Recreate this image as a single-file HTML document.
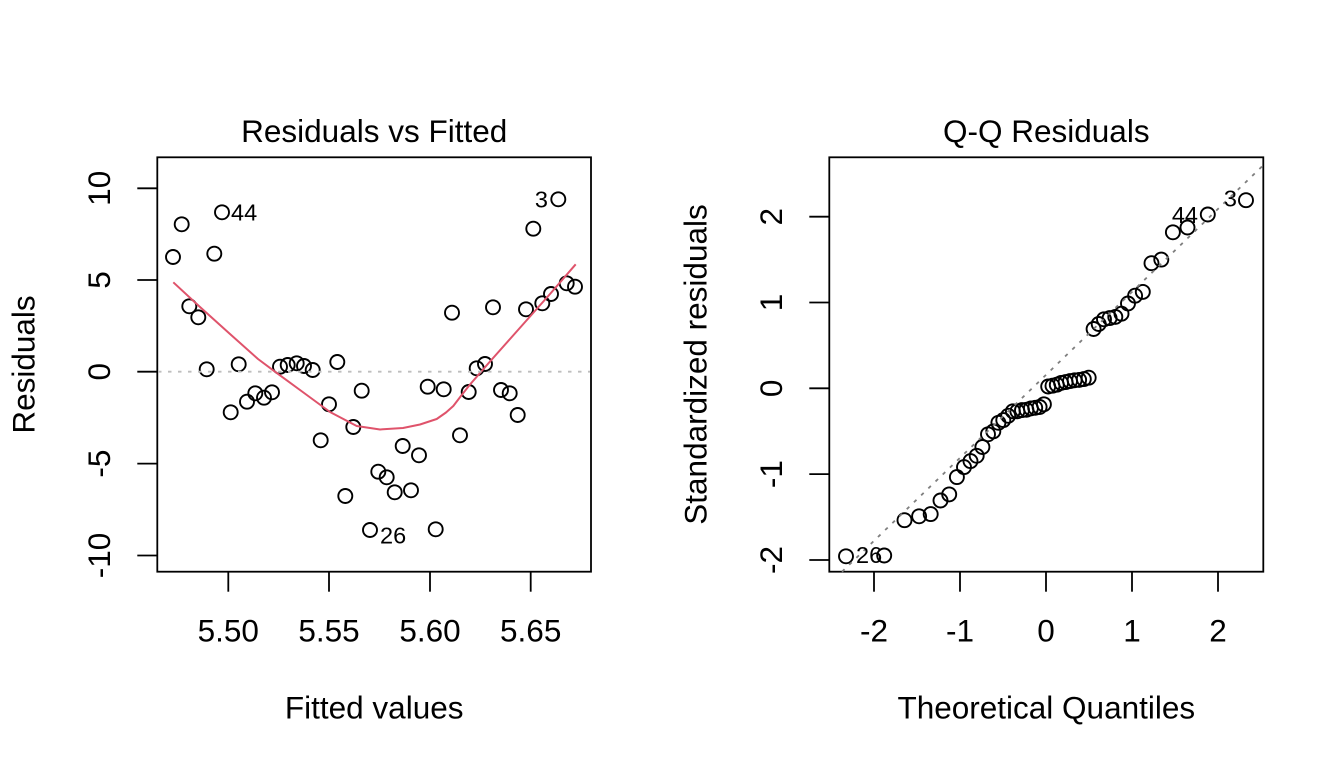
<!DOCTYPE html>
<html>
<head>
<meta charset="utf-8">
<style>
html,body{margin:0;padding:0;background:#fff;}
svg{display:block;}
text{font-family:"Liberation Sans",Arial,Helvetica,sans-serif;fill:#000;}
.lab{font-size:31.5px;}
.id{font-size:23.5px;}
</style>
</head>
<body>
<svg width="1344" height="768" viewBox="0 0 1344 768" xmlns="http://www.w3.org/2000/svg">
<rect x="0" y="0" width="1344" height="768" fill="#fff"/>

<g fill="none" stroke="#000" stroke-width="1.8">
  <rect x="157.3" y="157.3" width="433.7" height="414.4"/>
  <line x1="228.3" y1="571.7" x2="228.3" y2="591.7"/>
  <line x1="329" y1="571.7" x2="329" y2="591.7"/>
  <line x1="430" y1="571.7" x2="430" y2="591.7"/>
  <line x1="530.7" y1="571.7" x2="530.7" y2="591.7"/>
  <line x1="137.3" y1="188.3" x2="157.3" y2="188.3"/>
  <line x1="137.3" y1="280" x2="157.3" y2="280"/>
  <line x1="137.3" y1="371.7" x2="157.3" y2="371.7"/>
  <line x1="137.3" y1="463.6" x2="157.3" y2="463.6"/>
  <line x1="137.3" y1="555.5" x2="157.3" y2="555.5"/>
</g>
<g class="lab" text-anchor="middle">
  <text x="228.3" y="641.7">5.50</text>
  <text x="329" y="641.7">5.55</text>
  <text x="430" y="641.7">5.60</text>
  <text x="530.7" y="641.7">5.65</text>
  <text transform="translate(110,188.3) rotate(-90)">10</text>
  <text transform="translate(110,280) rotate(-90)">5</text>
  <text transform="translate(110,371.7) rotate(-90)">0</text>
  <text transform="translate(110,463.6) rotate(-90)">-5</text>
  <text transform="translate(110,555.5) rotate(-90)">-10</text>
  <text x="374.2" y="718.3">Fitted values</text>
  <text transform="translate(34.7,364.5) rotate(-90)">Residuals</text>
  <text x="374.2" y="142">Residuals vs Fitted</text>
</g>

<g fill="none" stroke="#000" stroke-width="1.9">
<circle cx="173" cy="257" r="7"/>
<circle cx="181.7" cy="224.3" r="7"/>
<circle cx="222" cy="212.3" r="7"/>
<circle cx="214.3" cy="253.7" r="7"/>
<circle cx="189.3" cy="306.3" r="7"/>
<circle cx="198.3" cy="317.3" r="7"/>
<circle cx="206.7" cy="369.3" r="7"/>
<circle cx="238.7" cy="364.3" r="7"/>
<circle cx="280" cy="366.7" r="7"/>
<circle cx="287.7" cy="365" r="7"/>
<circle cx="296.7" cy="363.3" r="7"/>
<circle cx="304" cy="366" r="7"/>
<circle cx="312.7" cy="370" r="7"/>
<circle cx="337.3" cy="362" r="7"/>
<circle cx="230.7" cy="412.3" r="7"/>
<circle cx="247" cy="401.7" r="7"/>
<circle cx="255.3" cy="393.3" r="7"/>
<circle cx="264" cy="397.7" r="7"/>
<circle cx="272" cy="392.3" r="7"/>
<circle cx="329" cy="404.3" r="7"/>
<circle cx="320.7" cy="440.3" r="7"/>
<circle cx="361.7" cy="390.7" r="7"/>
<circle cx="353.3" cy="427" r="7"/>
<circle cx="378.3" cy="471.7" r="7"/>
<circle cx="345.3" cy="496" r="7"/>
<circle cx="370" cy="530" r="7"/>
<circle cx="476.7" cy="368.3" r="7"/>
<circle cx="485" cy="364" r="7"/>
<circle cx="427.7" cy="386.7" r="7"/>
<circle cx="443.7" cy="389.3" r="7"/>
<circle cx="468.7" cy="392" r="7"/>
<circle cx="501" cy="390" r="7"/>
<circle cx="509.7" cy="393.3" r="7"/>
<circle cx="517.7" cy="415" r="7"/>
<circle cx="460" cy="435.3" r="7"/>
<circle cx="402.7" cy="446" r="7"/>
<circle cx="419" cy="455.3" r="7"/>
<circle cx="386.7" cy="477.3" r="7"/>
<circle cx="394.7" cy="492.3" r="7"/>
<circle cx="411" cy="490.3" r="7"/>
<circle cx="435.7" cy="529.3" r="7"/>
<circle cx="558.3" cy="199.3" r="7"/>
<circle cx="533.3" cy="228.7" r="7"/>
<circle cx="566.7" cy="283.3" r="7"/>
<circle cx="575" cy="286.7" r="7"/>
<circle cx="551" cy="294" r="7"/>
<circle cx="542.3" cy="303.3" r="7"/>
<circle cx="526" cy="309.3" r="7"/>
<circle cx="493" cy="307.3" r="7"/>
<circle cx="452" cy="312.7" r="7"/>
</g>

<polyline fill="none" stroke="#DF536B" stroke-width="2" stroke-linejoin="round"
 points="173.3,282.3 200,307 230,334 258,359 275,371.7 300,390 330,412 356.7,426 380,429.5 403,428 420,424.5 436.7,419 446,412.5 453.3,406 461.7,395 470,384.5 480,373 490,361.5 510,339 530,316.5 550,294 575.7,264.3"/>

<line x1="158" y1="371.7" x2="590" y2="371.7" stroke="#bebebe" stroke-width="1.8" stroke-dasharray="3.5 6.5"/>

<g class="id">
  <text x="231" y="220.5">44</text>
  <text x="548" y="207.5" text-anchor="end">3</text>
  <text x="380" y="543.5">26</text>
</g>

<g fill="none" stroke="#000" stroke-width="1.8">
  <rect x="829.3" y="157.3" width="434" height="414.4"/>
  <line x1="874" y1="571.7" x2="874" y2="591.7"/>
  <line x1="960" y1="571.7" x2="960" y2="591.7"/>
  <line x1="1046" y1="571.7" x2="1046" y2="591.7"/>
  <line x1="1132" y1="571.7" x2="1132" y2="591.7"/>
  <line x1="1218" y1="571.7" x2="1218" y2="591.7"/>
  <line x1="809.3" y1="216.7" x2="829.3" y2="216.7"/>
  <line x1="809.3" y1="302.5" x2="829.3" y2="302.5"/>
  <line x1="809.3" y1="388.3" x2="829.3" y2="388.3"/>
  <line x1="809.3" y1="474.1" x2="829.3" y2="474.1"/>
  <line x1="809.3" y1="560" x2="829.3" y2="560"/>
</g>
<g class="lab" text-anchor="middle">
  <text x="874" y="641.7">-2</text>
  <text x="960" y="641.7">-1</text>
  <text x="1046" y="641.7">0</text>
  <text x="1132" y="641.7">1</text>
  <text x="1218" y="641.7">2</text>
  <text transform="translate(782,216.7) rotate(-90)">2</text>
  <text transform="translate(782,302.5) rotate(-90)">1</text>
  <text transform="translate(782,388.3) rotate(-90)">0</text>
  <text transform="translate(782,474.1) rotate(-90)">-1</text>
  <text transform="translate(782,560) rotate(-90)">-2</text>
  <text x="1046.3" y="718.3">Theoretical Quantiles</text>
  <text transform="translate(706.7,364.5) rotate(-90)">Standardized residuals</text>
  <text x="1046.3" y="142">Q-Q Residuals</text>
</g>

<g fill="none" stroke="#000" stroke-width="1.9">
<circle cx="846" cy="556.3" r="7"/>
<circle cx="884.2" cy="555.5" r="7"/>
<circle cx="904.5" cy="520.2" r="7"/>
<circle cx="919.1" cy="516.3" r="7"/>
<circle cx="930.7" cy="514.1" r="7"/>
<circle cx="940.5" cy="500.5" r="7"/>
<circle cx="949.2" cy="494.4" r="7"/>
<circle cx="956.9" cy="477.1" r="7"/>
<circle cx="964" cy="467.1" r="7"/>
<circle cx="970.5" cy="461.1" r="7"/>
<circle cx="976.7" cy="455.8" r="7"/>
<circle cx="982.4" cy="447" r="7"/>
<circle cx="988" cy="434.3" r="7"/>
<circle cx="993.3" cy="431.4" r="7"/>
<circle cx="998.4" cy="422.8" r="7"/>
<circle cx="1003.3" cy="420.1" r="7"/>
<circle cx="1008.2" cy="415.8" r="7"/>
<circle cx="1012.9" cy="411.3" r="7"/>
<circle cx="1017.4" cy="411.3" r="7"/>
<circle cx="1022" cy="410.1" r="7"/>
<circle cx="1026.4" cy="409.8" r="7"/>
<circle cx="1030.9" cy="408.4" r="7"/>
<circle cx="1035.2" cy="407.8" r="7"/>
<circle cx="1039.6" cy="407" r="7"/>
<circle cx="1043.9" cy="404.3" r="7"/>
<circle cx="1048.2" cy="386.5" r="7"/>
<circle cx="1052.5" cy="385.7" r="7"/>
<circle cx="1056.8" cy="384.7" r="7"/>
<circle cx="1061.1" cy="382.9" r="7"/>
<circle cx="1065.6" cy="382.1" r="7"/>
<circle cx="1070" cy="381.1" r="7"/>
<circle cx="1074.6" cy="380.3" r="7"/>
<circle cx="1079.1" cy="379.9" r="7"/>
<circle cx="1083.8" cy="379.1" r="7"/>
<circle cx="1088.7" cy="377.7" r="7"/>
<circle cx="1093.6" cy="329" r="7"/>
<circle cx="1098.7" cy="324" r="7"/>
<circle cx="1104" cy="319.3" r="7"/>
<circle cx="1109.6" cy="318.1" r="7"/>
<circle cx="1115.3" cy="316.9" r="7"/>
<circle cx="1121.5" cy="313.7" r="7"/>
<circle cx="1128" cy="303.5" r="7"/>
<circle cx="1135.1" cy="295.7" r="7"/>
<circle cx="1142.8" cy="291.9" r="7"/>
<circle cx="1151.5" cy="263.2" r="7"/>
<circle cx="1161.3" cy="259.6" r="7"/>
<circle cx="1172.9" cy="232.3" r="7"/>
<circle cx="1187.5" cy="227.5" r="7"/>
<circle cx="1207.8" cy="214.5" r="7"/>
<circle cx="1246" cy="200.2" r="7"/>
</g>

<line x1="842" y1="571.7" x2="1263.3" y2="165.2" stroke="#7f7f7f" stroke-width="1.8" stroke-dasharray="3.5 6.5"/>

<g class="id">
  <text x="1237" y="206.5" text-anchor="end">3</text>
  <text x="1198" y="223" text-anchor="end">44</text>
  <text x="856" y="563">26</text>
</g>
</svg>
</body>
</html>
